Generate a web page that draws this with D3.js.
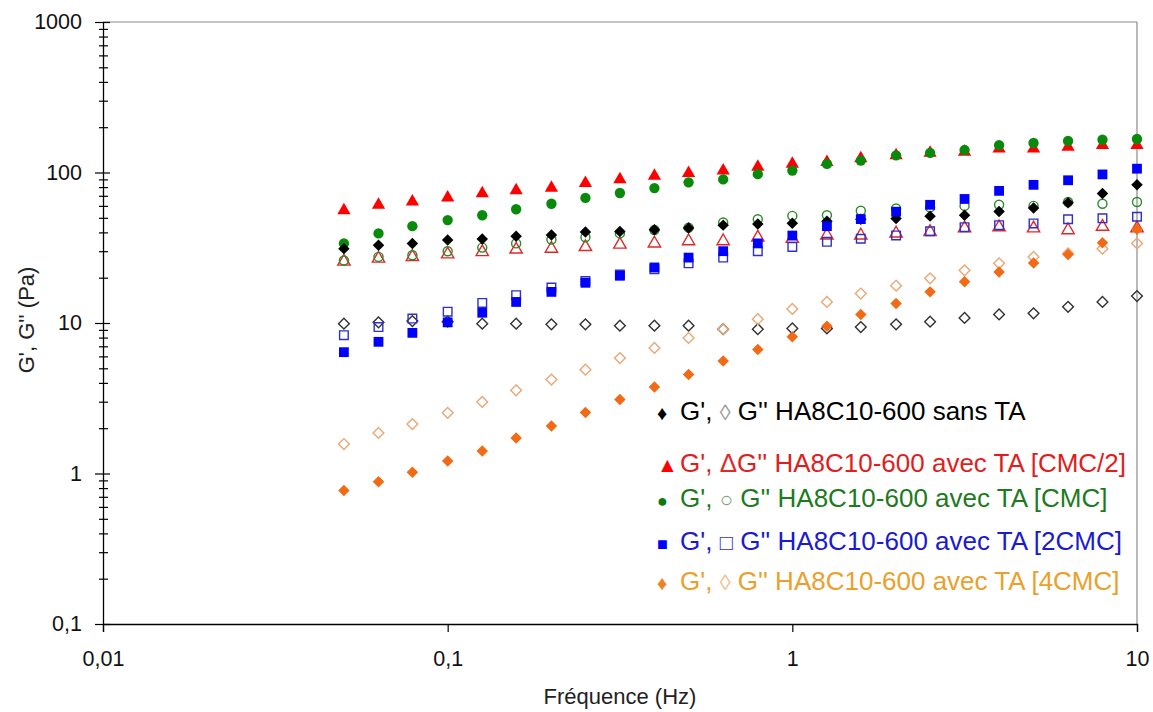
<!DOCTYPE html>
<html><head><meta charset="utf-8">
<script src="https://cdn.jsdelivr.net/npm/d3@7"></script>
<style>body{margin:0;background:#fff}svg{display:block}text{font-family:Arial,"Liberation Sans",sans-serif}</style>
</head><body><svg id="c" width="1153" height="712"></svg>
<script>
const freq = [0.05,0.063,0.079,0.1,0.126,0.158,0.2,0.251,0.316,0.398,0.5,0.63,0.794,1,1.26,1.58,2,2.51,3.16,3.98,5.01,6.31,7.94,10];
const gpSans   = [31.2,32.9,33.8,35.6,36.1,37.7,38.5,40.3,40.5,41.7,42.8,44.7,45.4,46,47.5,48.9,49.5,51.3,52,55,58,63,72.5,83];
const gppSans  = [9.9,10.1,10.3,10.2,9.9,9.9,9.8,9.8,9.6,9.6,9.6,9.1,9.1,9.2,9.2,9.4,9.8,10.2,10.8,11.4,11.6,12.8,13.8,15.1];
const gpCmc2   = [56,61,64,68,72.5,76,79,85,90,95,99,103,109,114,117,124,130,135,137,144,144,148,152,152];
const gppCmc2  = [25.6,26.8,27.5,28.6,29.6,30.8,31.2,32,33.2,33.8,35,35,37,36.3,38.2,38.2,39.4,40.3,42.6,43.3,42.6,41.4,43.6,42.6];
const gpCmc    = [33.8,39.4,44,48.3,52,57,62,67.8,73.1,78.8,86,90,97.5,103,114,120,130,135,141,152,157,162,165,167];
const gppCmc   = [26,27.5,28.2,30,31.7,33.8,35.9,37.1,39.4,41.5,43,46.5,48.9,51.5,52,55.7,57.6,58.6,60,61,60,63.7,62,63.7];
const gp2Cmc   = [6.4,7.5,8.6,10.1,11.7,13.8,16.1,18.5,20.6,23.4,27.2,30,33.8,38.1,44,49,54.9,61,66.7,75.5,82.8,88.8,97.1,106];
const gpp2Cmc  = [8.3,9.4,10.7,11.9,13.6,15.3,17.2,19,21,22.8,24.9,27.2,30,32,34.6,36.3,38.2,40.7,43.3,44.7,45.9,48.9,49.6,50.8];
const gp4Cmc   = [0.77,0.88,1.02,1.21,1.41,1.72,2.07,2.54,3.1,3.76,4.54,5.6,6.67,8.1,9.5,11.4,13.5,16.1,18.8,21.8,25,28.5,34.1,42];
const gpp4Cmc  = [1.57,1.86,2.13,2.53,2.99,3.57,4.21,4.9,5.85,6.83,7.96,9.1,10.6,12.4,13.8,15.7,17.7,19.8,22.4,24.9,27.5,29,31.2,33.8];

const xTicks = [0.01,0.1,1,10];
const xTickLabels = ["0,01","0,1","1","10"];
const yTicks = [0.1,1,10,100,1000];
const yTickLabels = ["0,1","1","10","100","1000"];

const legendLines = [
  {sym:"\u2666", open:"\u25CA", text:"HA8C10-600 sans TA"},
  {sym:"\u25B2", open:"\u0394", text:"HA8C10-600 avec TA [CMC/2]"},
  {sym:"\u25CF", open:"\u25CB", text:"HA8C10-600 avec TA [CMC]"},
  {sym:"\u25A0", open:"\u25A1", text:"HA8C10-600 avec TA [2CMC]"},
  {sym:"\u2666", open:"\u25CA", text:"HA8C10-600 avec TA [4CMC]"}
];

const svg = d3.select("#c");
const L=103, R=1137, T=22, B=624;
const x = d3.scaleLog().domain([0.01,10]).range([L,R]);
const y = d3.scaleLog().domain([0.1,1000]).range([B,T]);

// borders (top/right)
svg.append("line").attr("x1",L).attr("x2",R).attr("y1",T).attr("y2",T).attr("stroke","#8a8a8a").attr("stroke-width",1.2);
svg.append("line").attr("x1",R).attr("x2",R).attr("y1",T).attr("y2",B).attr("stroke","#8a8a8a").attr("stroke-width",1.2);

// y axis
const yAll = [];
for (let e=-1;e<3;e++) for (let m=1;m<10;m++) yAll.push(m*Math.pow(10,e));
yAll.push(1000);
const isMajor = v => yTicks.some(t=>Math.abs(t-v)/t<1e-6);
const yAx = svg.append("g").attr("transform",`translate(${L},0)`)
  .call(d3.axisLeft(y).tickValues(yAll).tickSizeOuter(0).tickFormat(d=>{const i=yTicks.findIndex(t=>Math.abs(t-d)/t<1e-6);return i>=0?yTickLabels[i]:"";}));
yAx.select(".domain").attr("stroke","#000").attr("stroke-width",1.3);
yAx.selectAll(".tick line").attr("stroke","#000").attr("stroke-width",1.2)
  .attr("x1",d=>isMajor(d)?7:5).attr("x2",d=>isMajor(d)?-8:-4);
yAx.selectAll(".tick text").attr("x",-21).attr("font-size",21.5).attr("fill","#111").attr("font-family","Arial,'Liberation Sans',sans-serif");

// x axis
const xAx = svg.append("g").attr("transform",`translate(0,${B})`)
  .call(d3.axisBottom(x).tickValues(xTicks).tickSizeOuter(0).tickSize(8).tickFormat((d,i)=>xTickLabels[i]));
xAx.select(".domain").attr("stroke","#000").attr("stroke-width",1.3);
xAx.selectAll(".tick line").attr("stroke","#000").attr("stroke-width",1.2);
xAx.selectAll(".tick text").attr("y",27).attr("dy","0.71em").attr("font-size",21.5).attr("fill","#111").attr("font-family","Arial,'Liberation Sans',sans-serif");

// axis titles
svg.append("text").attr("x",620).attr("y",704).attr("text-anchor","middle").attr("font-size",22).attr("fill","#222").text("Fréquence (Hz)");
svg.append("text").attr("transform","translate(34,320) rotate(-90)").attr("text-anchor","middle").attr("font-size",22).attr("fill","#222").text("G', G'' (Pa)");

// series
const series = [
  {v:gppSans,  shape:"diamond", fill:"none", stroke:"#333", open:true},
  {v:gppCmc2,  shape:"triangle",fill:"none", stroke:"#e02828", open:true},
  {v:gppCmc,   shape:"circle",  fill:"none", stroke:"#2d8a2d", open:true},
  {v:gpp2Cmc,  shape:"square",  fill:"none", stroke:"#3030c8", open:true},
  {v:gpp4Cmc,  shape:"diamond", fill:"none", stroke:"#e8a878", open:true},
  {v:gpCmc2,   shape:"triangle",fill:"#ff0000", stroke:"none"},
  {v:gpCmc,    shape:"circle",  fill:"#0a8a0a", stroke:"none"},
  {v:gpSans,   shape:"diamond", fill:"#000", stroke:"none"},
  {v:gp2Cmc,   shape:"square",  fill:"#0000ff", stroke:"none"},
  {v:gp4Cmc,   shape:"diamond", fill:"#f26a14", stroke:"none"}
];
const symType = {diamond:d3.symbolSquare, triangle:d3.symbolTriangle, circle:d3.symbolCircle, square:d3.symbolSquare};
const symSize = {diamond:66, triangle:76, circle:84, square:96};
const symSizeOpen = {diamond:58, triangle:66, circle:64, square:74};
series.forEach(s=>{
  const path = d3.symbol().type(symType[s.shape]).size(s.open?symSizeOpen[s.shape]:symSize[s.shape])();
  svg.append("g").selectAll("path").data(s.v.map((v,i)=>[freq[i],v])).join("path")
    .attr("d",path)
    .attr("transform",d=>`translate(${x(d[0])},${y(d[1])})`+(s.shape==="diamond"?" rotate(45)":""))
    .attr("fill",s.fill).attr("stroke",s.stroke).attr("stroke-width",s.open?1.4:0);
});

// legend
const legStyle = [
  {sym:"#000", open:"#999", txt:"#000", baseline:420, size:20},
  {sym:"#ff0000", open:"#e02828", txt:"#e01e1e", baseline:472, size:21},
  {sym:"#0a7a0a", open:"#7aa07a", txt:"#1d7a1d", baseline:507, size:18},
  {sym:"#0000ff", open:"#3030c8", txt:"#1a1ad0", baseline:550, size:18},
  {sym:"#f08020", open:"#f0c088", txt:"#eba02c", baseline:590, size:20}
];
const legFont = 26;
legendLines.forEach((ln,i)=>{
  const st = legStyle[i];
  svg.append("text").attr("x",657).attr("y",st.baseline).attr("font-size",st.size).attr("fill",st.sym)
    .attr("font-family","'DejaVu Sans',sans-serif").text(ln.sym);
  const t = svg.append("text").attr("x",680).attr("y",st.baseline).attr("font-size",legFont).attr("fill",st.txt);
  t.append("tspan").text("G', ");
  t.append("tspan").attr("fill",st.open).attr("font-size",i===1?26:22).text(ln.open);
  t.append("tspan").text((i===1?"":" ")+"G'' "+ln.text);
});
</script></body></html>
